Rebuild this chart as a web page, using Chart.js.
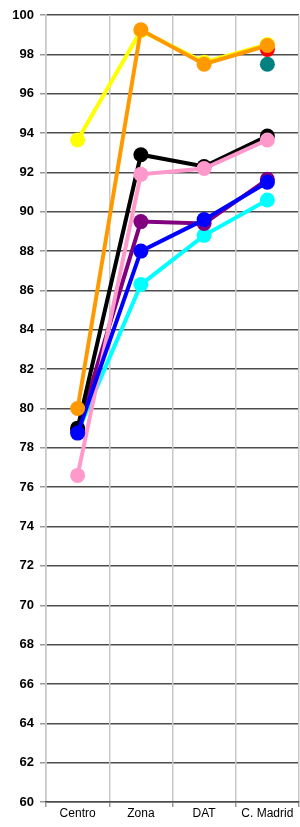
<!DOCTYPE html>
<html>
<head>
<meta charset="utf-8">
<script src="https://cdn.jsdelivr.net/npm/chart.js@4"></script>
<style>
  html, body { margin: 0; padding: 0; background: #fff; }
  canvas { display: block; }
</style>
</head>
<body>
<canvas id="myChart" width="300" height="827"></canvas>
<script>
var categories = ['Centro', 'Zona', 'DAT', 'C. Madrid'];
var yTicks = [60, 100, 2]; // min, max, step

var orangeValues = [80.0, 99.25, 97.5, 98.45];
var yellowValues = [93.65, 99.2, 97.6, 98.5];
var redValues    = [null, null, null, 98.25];
var tealValues   = [null, null, null, 97.5];
var blueValues   = [78.75, 88.0, 89.6, 91.5];
var pinkValues   = [76.6, 91.9, 92.2, 93.65];
var blackValues  = [79.0, 92.9, 92.3, 93.85];
var purpleValues = [78.9, 89.5, 89.4, 91.65];
var cyanValues   = [78.8, 86.3, 88.8, 90.6];

function serie(data, color) {
    return {
        data: data,
        borderColor: color,
        backgroundColor: color,
        pointBackgroundColor: color,
        pointBorderWidth: 0,
        pointRadius: 7.5,
        pointHoverRadius: 7.5,
        borderWidth: 4,
        tension: 0,
        clip: false
    };
}

// el primero se dibuja encima
var ctx = document.getElementById('myChart').getContext('2d');
var myChart = new Chart(ctx, {
    type: 'line',
    data: {
        labels: categories,
        datasets: [
            serie(orangeValues, '#ff9900'),
            serie(yellowValues, '#ffff00'),
            serie(redValues, '#ff0000'),
            serie(tealValues, '#008080'),
            serie(blueValues, '#0000ff'),
            serie(pinkValues, '#ff99cc'),
            serie(blackValues, '#000000'),
            serie(purpleValues, '#800080'),
            serie(cyanValues, '#00ffff')
        ]
    },
    options: {
        responsive: false,
        animation: false,
        devicePixelRatio: 1,
        layout: { autoPadding: false, padding: { top: 15, right: 1, left: 0, bottom: 0 } },
        scales: {
            y: {
                min: yTicks[0],
                max: yTicks[1],
                ticks: {
                    stepSize: yTicks[2],
                    color: '#000',
                    padding: 6,
                    font: { family: 'Liberation Sans, Arial', size: 13, weight: 'bold' }
                },
                grid: {
                    color: '#4d4d4d',
                    lineWidth: 1.5,
                    tickLength: 6,
                    tickColor: '#999'
                },
                border: { color: '#c8c8c8', width: 1.5 },
                afterFit: function (scale) {
                    scale.width = 46;
                    scale.paddingTop = 0;
                    scale.paddingBottom = 0;
                }
            },
            x: {
                offset: true,
                ticks: {
                    color: '#000',
                    padding: -1,
                    font: { family: 'Liberation Sans, Arial', size: 12 }
                },
                grid: {
                    offset: true,
                    color: '#c8c8c8',
                    lineWidth: 1.5,
                    tickLength: 5,
                    tickColor: '#999'
                },
                border: { color: '#4d4d4d', width: 1.5 },
                afterFit: function (scale) {
                    scale.height = 25;
                    scale.paddingLeft = 0;
                    scale.paddingRight = 0;
                }
            }
        },
        plugins: {
            legend: { display: false },
            tooltip: { enabled: false }
        }
    }
});
</script>
</body>
</html>
